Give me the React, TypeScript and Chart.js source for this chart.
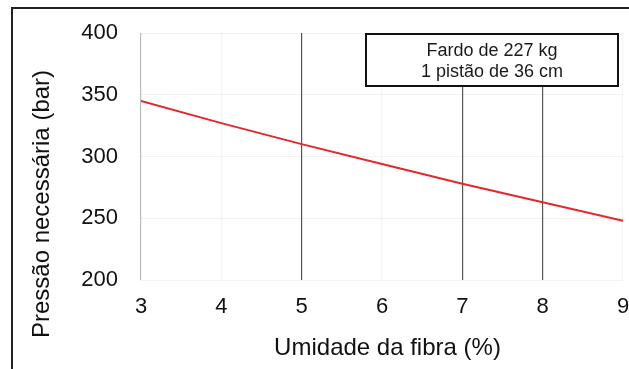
import React, { useEffect, useRef } from "react";
import { Chart, registerables } from "chart.js";
Chart.register(...registerables);

const umidade = [3, 4, 5, 6, 7, 8, 9];
const pressao = [345, 327, 310, 294, 278, 263, 248];
const yTicks = [200, 250, 300, 350, 400];
const annotationLines = ["Fardo de 227 kg", "1 pistão de 36 cm"];
const xTitle = "Umidade da fibra (%)";
const yTitle = "Pressão necessária (bar)";
const strongX = [5, 7, 8];

const FONT = "'Liberation Sans', Arial, sans-serif";

export default function App() {
  const ref = useRef<HTMLCanvasElement>(null);
  useEffect(() => {
    const canvas = ref.current!;
    const extras = {
      id: "extras",
      afterDraw(chart: any) {
        const ctx = chart.ctx;
        const a = chart.chartArea;
        ctx.save();
        // outer frame
        ctx.strokeStyle = "#222";
        ctx.lineWidth = 2;
        ctx.beginPath();
        ctx.moveTo(629, 8);
        ctx.lineTo(12, 8);
        ctx.lineTo(12, 369);
        ctx.stroke();
        // annotation box
        const bx = a.right - 257;
        const by = a.top + 1;
        const bw = 252;
        const bh = 52;
        ctx.fillStyle = "#fff";
        ctx.fillRect(bx, by, bw, bh);
        ctx.strokeStyle = "#111";
        ctx.lineWidth = 2;
        ctx.strokeRect(bx, by, bw, bh);
        ctx.fillStyle = "#1a1a1a";
        ctx.font = `18px ${FONT}`;
        ctx.textAlign = "center";
        ctx.textBaseline = "middle";
        annotationLines.forEach((t, i) => ctx.fillText(t, bx + bw / 2, by + 17 + i * 21.5));
        // x title
        ctx.font = `24px ${FONT}`;
        ctx.fillStyle = "#111";
        ctx.fillText(xTitle, 387.5, 348);
        // y title
        ctx.translate(42, 204);
        ctx.rotate(-Math.PI / 2);
        ctx.fillText(yTitle, 0, 0);
        ctx.restore();
      },
    };
    const chart = new Chart(canvas, {
      type: "line",
      data: {
        datasets: [
          {
            data: umidade.map((x, i) => ({ x, y: pressao[i] })),
            borderColor: "#e8262a",
            borderWidth: 2,
            pointRadius: 0,
            tension: 0,
          },
        ],
      },
      options: {
        animation: false,
        responsive: false,
        maintainAspectRatio: false,
        layout: { padding: { left: 0, right: 6, top: 33, bottom: 0 } },
        plugins: { legend: { display: false }, tooltip: { enabled: false } },
        scales: {
          x: {
            type: "linear",
            min: 3,
            max: 9,
            afterFit: (s: any) => {
              s.height = 89;
              s.paddingLeft = 0;
              s.paddingRight = 0;
            },
            ticks: {
              stepSize: 1,
              padding: 14,
              color: "#111",
              font: { family: FONT, size: 22 },
            },
            border: { display: false },
            grid: {
              drawTicks: false,
              color: (c: any) => {
                const v = c.tick?.value;
                if (strongX.includes(v)) return "#555";
                if (v === 3) return "#bbb";
                return "rgba(0,0,0,0.04)";
              },
              lineWidth: 1.2,
            },
          },
          y: {
            min: 200,
            max: 400,
            afterFit: (s: any) => {
              s.width = 141;
              s.paddingTop = 0;
              s.paddingBottom = 0;
            },
            afterBuildTicks: (s: any) => {
              s.ticks = yTicks.map((v) => ({ value: v }));
            },
            ticks: {
              padding: 23,
              color: "#111",
              font: { family: FONT, size: 22 },
            },
            border: { display: false },
            grid: { drawTicks: false, color: "rgba(0,0,0,0.05)" },
          },
        },
      },
      plugins: [extras],
    });
    return () => chart.destroy();
  }, []);
  return (
    <div style={{ position: "fixed", left: 0, top: 0, width: 629, height: 369, background: "#fff" }}>
      <canvas ref={ref} width={629} height={369} style={{ display: "block" }} />
    </div>
  );
}
